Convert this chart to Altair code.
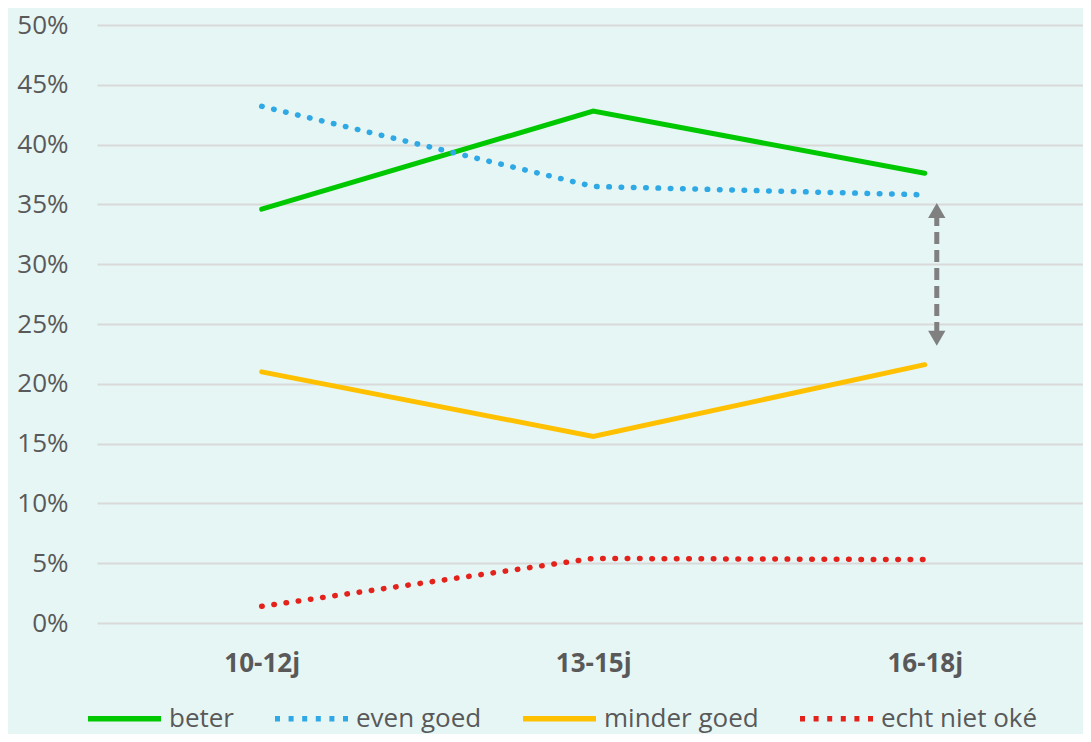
import altair as alt
import pandas as pd

ages = ["10-12j", "13-15j", "16-18j"]
series = ["beter", "even goed", "minder goed", "echt niet oké"]
solid_series = ["beter", "minder goed"]
dotted_series = ["even goed", "echt niet oké"]
beter = [0.346, 0.428, 0.376]
even_goed = [0.432, 0.365, 0.358]
minder_goed = [0.210, 0.156, 0.216]
echt_niet_oke = [0.014, 0.054, 0.053]
colors = ["#00C800", "#2EA9E6", "#FFC000", "#E3231B"]
arrow_top, arrow_bottom = 0.352, 0.231

rows = []
for name, vals in zip(series, [beter, even_goed, minder_goed, echt_niet_oke]):
    for a, v in zip(ages, vals):
        rows.append({"leeftijd": a, "reeks": name, "waarde": v})
df = pd.DataFrame(rows)

font = "Open Sans"
xscale = alt.Scale(type="point", domain=ages, padding=0.487, align=0.51)
yscale = alt.Scale(domain=[0, 0.5])
cscale = alt.Scale(domain=series, range=colors)

X = alt.X("leeftijd:N", scale=xscale, sort=ages,
          axis=alt.Axis(title=None, labelAngle=0, labelFontWeight="bold",
                        labelFontSize=26, labelColor="#595959", labelFont=font,
                        ticks=False, domain=False, labelPadding=27))
Y = alt.Y("waarde:Q", scale=yscale,
          axis=alt.Axis(title=None, format=".0%", values=[i / 100 for i in range(0, 51, 5)],
                        labelFontSize=26, labelColor="#595959", labelFont=font,
                        ticks=False, domain=False, labelPadding=29,
                        gridColor="#D9D9D9", gridWidth=2))

base = alt.Chart(df)

# invisible copy of the lines that only provides the legend
legend_src = base.mark_line(strokeWidth=5, strokeOpacity=0).encode(
    x=X, y=Y, detail="reeks:N",
    color=alt.Color("reeks:N", scale=cscale,
                    legend=alt.Legend(title=None, orient="none", direction="horizontal",
                                      legendX=-12, legendY=654,
                                      symbolType="stroke", symbolStrokeWidth=5.5,
                                      symbolOpacity=1,
                                      symbolSize=5330, labelFontSize=26, labelFont=font,
                                      labelColor="#595959", columnPadding=29,
                                      labelOffset=5)),
    strokeDash=alt.StrokeDash("reeks:N", scale=alt.Scale(domain=series,
                              range=[[1, 0], [5, 8.6], [1, 0], [5, 8.6]])),
)

solid = base.transform_filter(alt.FieldOneOfPredicate(field="reeks", oneOf=solid_series)).mark_line(
    strokeWidth=5, strokeCap="round").encode(
    x=X, y=Y, stroke=alt.Stroke("reeks:N", scale=cscale, legend=None))

dotted = base.transform_filter(alt.FieldOneOfPredicate(field="reeks", oneOf=dotted_series)).mark_line(
    strokeWidth=5.5, strokeCap="round", strokeDash=[0.5, 11.8]).encode(
    x=X, y=Y, stroke=alt.Stroke("reeks:N", scale=cscale, legend=None))

arrow_df = pd.DataFrame({"leeftijd": ["16-18j"], "top": [arrow_top - 0.010], "bottom": [arrow_bottom + 0.010]})
arrow_line = alt.Chart(arrow_df).mark_rule(color="#808080", strokeWidth=5, strokeDash=[12, 6], xOffset=12).encode(
    x=alt.X("leeftijd:N", scale=xscale), y=alt.Y("top:Q", scale=yscale), y2="bottom:Q")
tips_df = pd.DataFrame({"leeftijd": ["16-18j", "16-18j"], "y": [arrow_top - 0.007, arrow_bottom + 0.007],
                        "shape": ["triangle-up", "triangle-down"]})
arrow_tips = alt.Chart(tips_df).mark_point(filled=True, color="#808080", size=300, opacity=1, xOffset=12).encode(
    x=alt.X("leeftijd:N", scale=xscale), y=alt.Y("y:Q", scale=yscale),
    shape=alt.Shape("shape:N", scale=None, legend=None))

chart = alt.layer(legend_src, solid, dotted, arrow_line, arrow_tips).properties(
    width=986, height=598, background="#E6F6F5",
    padding={"left": 89, "top": 17, "right": 0, "bottom": 111},
    autosize=alt.AutoSizeParams(type="none"),
).configure_view(stroke=None)

chart.save("out.html", embed_options={"renderer": "svg", "actions": False})
